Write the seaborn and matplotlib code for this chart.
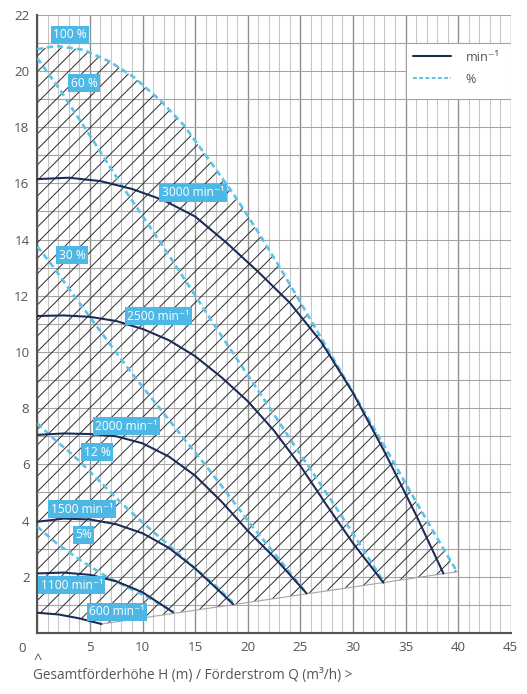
import matplotlib
matplotlib.use("Agg")
import matplotlib.pyplot as plt
import seaborn as sns
from matplotlib.lines import Line2D
from matplotlib.patches import Rectangle

# pump speed curves (Q in m3/h, H in m)
q_3000 = [0, 3, 6, 9, 12, 15, 18, 21, 24, 27, 30, 33, 36, 38.6]
h_3000 = [16.15, 16.2, 16.08, 15.8, 15.4, 14.82, 13.88, 12.85, 11.75, 10.35, 8.55, 6.45, 4.2, 2.12]
q_2500 = [0, 2.5, 5, 7.5, 10, 12.5, 15, 17.5, 20, 22.5, 25, 27.5, 30, 32.9]
h_2500 = [11.28, 11.3, 11.25, 11.1, 10.82, 10.42, 9.85, 9.1, 8.25, 7.2, 5.95, 4.55, 3.2, 1.79]
q_2000 = [0, 2.5, 5, 7.5, 10, 12.5, 15, 17.5, 20, 22.5, 25.6]
h_2000 = [7.05, 7.1, 7.08, 7.0, 6.75, 6.28, 5.6, 4.68, 3.64, 2.7, 1.41]
q_1500 = [0, 2.5, 5, 7.5, 10, 12.5, 15, 17, 18.6]
h_1500 = [3.96, 4.07, 4.04, 3.87, 3.55, 3.03, 2.3, 1.6, 1.03]
q_1100 = [0, 2.5, 5, 7.5, 10, 12.9]
h_1100 = [2.12, 2.15, 2.07, 1.84, 1.45, 0.74]
q_600 = [0, 2, 4, 6.1]
h_600 = [0.72, 0.66, 0.52, 0.32]

# minimum flow line
q_min = [6.1, 39.9]
h_min = [0.32, 2.18]

# efficiency / power curves (%)
q_100 = [0, 1.8, 4.4, 6.9, 9.1, 11.7, 13.9, 16.1, 18.6, 20.85, 23.1, 25.5, 28, 30.5, 33, 35.5, 37.5, 39.9]
h_100 = [20.77, 20.89, 20.75, 20.33, 19.8, 18.95, 18.08, 16.95, 15.65, 14.35, 12.98, 11.45, 9.85, 8.25, 6.65, 5.0, 3.7, 2.18]
q_60 = [0, 2.2, 5, 7.9, 11.7, 14.5, 17.1, 19.6, 21.4, 24.3, 27.5, 30, 32.9]
h_60 = [20.45, 19.3, 17.7, 16.0, 13.9, 12.3, 10.8, 9.4, 8.4, 6.75, 4.97, 3.55, 1.83]
q_30 = [0, 1.5, 3.1, 4.85, 6.6, 8.5, 11, 13.9, 16.1, 18.3, 20.2, 22.5, 25.6]
h_30 = [13.75, 13.04, 12.2, 11.32, 10.43, 9.48, 8.29, 6.93, 5.92, 4.85, 3.9, 2.85, 1.41]
q_12 = [0, 1.5, 3.4, 5.65, 7.86, 10.1, 12.3, 14.8, 17.05, 18.6]
h_12 = [7.46, 6.93, 6.33, 5.5, 4.67, 3.9, 3.19, 2.36, 1.65, 1.08]
q_5 = [0, 1.84, 4.06, 6.6, 9.1, 11, 12.9]
h_5 = [3.78, 3.19, 2.6, 2.0, 1.53, 1.17, 0.76]

speed_curves = [(q_3000, h_3000), (q_2500, h_2500), (q_2000, h_2000),
                (q_1500, h_1500), (q_1100, h_1100), (q_600, h_600)]
pct_curves = [(q_100, h_100), (q_60, h_60), (q_30, h_30), (q_12, h_12), (q_5, h_5)]

# curve labels: text, Q, H
labels = [
    ("100 %", 3.1, 21.28), ("60 %", 4.44, 19.57), ("3000 min\u207b\u00b9", 14.8, 15.66),
    ("30 %", 3.3, 13.45), ("2500 min\u207b\u00b9", 11.5, 11.27), ("2000 min\u207b\u00b9", 8.46, 7.36),
    ("12 %", 5.67, 6.44), ("1500 min\u207b\u00b9", 4.25, 4.41), ("5%", 4.4, 3.49),
    ("1100 min\u207b\u00b9", 3.27, 1.70), ("600 min\u207b\u00b9", 7.55, 0.75),
]

navy = "#1b2a57"
light_blue = "#5cc3e8"
box_blue = "#4db8e6"
text_grey = "#555555"

sns.set_style("white")
plt.rcParams["font.family"] = ["Open Sans", "DejaVu Sans"]
plt.rcParams["hatch.linewidth"] = 0.5

fig = plt.figure(figsize=(527 / 140, 694 / 140), dpi=140)
ax = fig.add_axes([0.0708, 0.0879, 0.8983, 0.8909])
ax.set_xlim(0, 45)
ax.set_ylim(0, 22)

# grid
ax.set_xticks(range(0, 46, 5))
ax.set_xticks(range(0, 46), minor=True)
ax.set_yticks(range(2, 23, 2))
ax.set_yticks(range(0, 23), minor=True)
ax.grid(which="minor", axis="x", color="#c6c6c6", lw=0.55)
ax.grid(which="major", axis="x", color="#8e8e8e", lw=0.7)
ax.grid(which="both", axis="y", color="#a4a4a4", lw=0.55)
ax.set_axisbelow(True)

# hatched operating area
poly_q = q_100 + q_min[::-1] + q_600[::-1]
poly_h = h_100 + h_min[::-1] + h_600[::-1]
ax.fill(poly_q, poly_h, facecolor="none", edgecolor="#2a2a2a", hatch="///", linewidth=0, zorder=2)
ax.plot(q_min, h_min, color="#a8a8a8", lw=0.6, zorder=3)

for q, h in pct_curves:
    sns.lineplot(x=q, y=h, ax=ax, color=light_blue, lw=1.35, sort=False, estimator=None,
                 linestyle=(0, (2.3, 1.5)), zorder=4)
for q, h in speed_curves:
    sns.lineplot(x=q, y=h, ax=ax, color=navy, lw=1.05, sort=False, estimator=None, zorder=5)

for txt, q, h in labels:
    ax.text(q, h, txt, ha="center", va="center", color="white", fontsize=6.2, zorder=6,
            bbox=dict(boxstyle="square,pad=0.2", fc=box_blue, ec="none"))

# legend box
ax.add_patch(Rectangle((35, 19), 10, 2, facecolor="white", edgecolor="#a4a4a4", lw=0.55, zorder=6))
handles = [Line2D([0], [0], color=navy, lw=1.05),
           Line2D([0], [0], color=light_blue, lw=1.0, linestyle=(0, (2.0, 1.2)))]
leg = ax.legend(handles, ["min\u207b\u00b9", "%"], loc="upper left", bbox_to_anchor=(35.2 / 45, 20.9 / 22),
                frameon=False, fontsize=6.5, handlelength=3.0, handletextpad=1.2, labelspacing=0.7,
                borderaxespad=0)
for t in leg.get_texts():
    t.set_color(text_grey)
leg.set_zorder(7)

# axes styling
for s in ["top", "right"]:
    ax.spines[s].set_visible(False)
for s in ["left", "bottom"]:
    ax.spines[s].set_color(text_grey)
    ax.spines[s].set_linewidth(1.1)
ax.tick_params(which="major", length=2.5, width=1.0, color=text_grey, labelcolor=text_grey,
               labelsize=6.9, pad=1.5, direction="out")
ax.tick_params(which="minor", length=0)
ax.set_xticklabels([""] + [str(v) for v in range(5, 46, 5)])
ax.set_xlabel("")
ax.set_ylabel("")

fig.text(22 / 527, 1 - 648 / 694, "0", ha="center", va="center", color=text_grey, fontsize=6.9)
fig.text(37.5 / 527, 1 - 660 / 694, "^", ha="center", va="center", color=text_grey, fontsize=7.5)
fig.text(33 / 527, 1 - 675 / 694, "Gesamtförderhöhe H (m) / Förderstrom Q (m³/h) >", ha="left",
         va="center", color=text_grey, fontsize=7.0)

fig.savefig("out.png", dpi=140)
